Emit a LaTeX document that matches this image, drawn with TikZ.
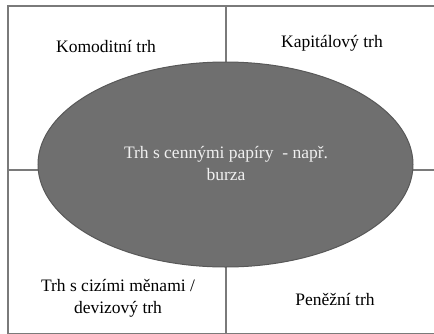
\documentclass[tikz,border=0pt]{standalone}
\usepackage{fontspec}
\setmainfont{Liberation Serif}
\usetikzlibrary{shapes.geometric}
\definecolor{framegray}{HTML}{7A7A7A}
\definecolor{ovalfill}{HTML}{6F6F6F}
\definecolor{ovaldraw}{HTML}{585858}
\begin{document}
\begin{tikzpicture}[x=1pt,y=-1pt]
	\tikzset{quad/.style={draw=framegray,line width=1.3pt,minimum width=218pt,minimum height=164pt,inner sep=0pt},
		market/.style={font=\fontsize{17.5}{22}\selectfont,align=center,inner sep=0pt}}
	\useasboundingbox (0,0) rectangle (434,333);
	\clip (0,0) rectangle (434,333);
	% four quadrants
	\path (117,88)  node [quad] (kom) {};
	\path (335,88)  node [quad] (kap) {};
	\path (117,252) node [quad] (dev) {};
	\path (335,252) node [quad] (pen) {};
	% labels
	\path (106,46)  node [market] (tkom) {Komoditní trh};
	\path (332,43)  node [market] (tkap) {Kapitálový trh};
	\path (118,298) node [market] (tdev) {Trh s cizími měnami /\\devizový trh};
	\path (335,299) node [market] (tpen) {Peněžní trh};
	% oval in the middle
	\path (225.5,164.5) node [ellipse,fill=ovalfill,draw=ovaldraw,line width=1pt,minimum width=375pt,minimum height=205pt,inner sep=0pt] (burza) {};
	\path (226,163) node [market,text=white!94!black] (tburza) {Trh s cennými papíry \ - např.\\burza};
\end{tikzpicture}
\end{document}
